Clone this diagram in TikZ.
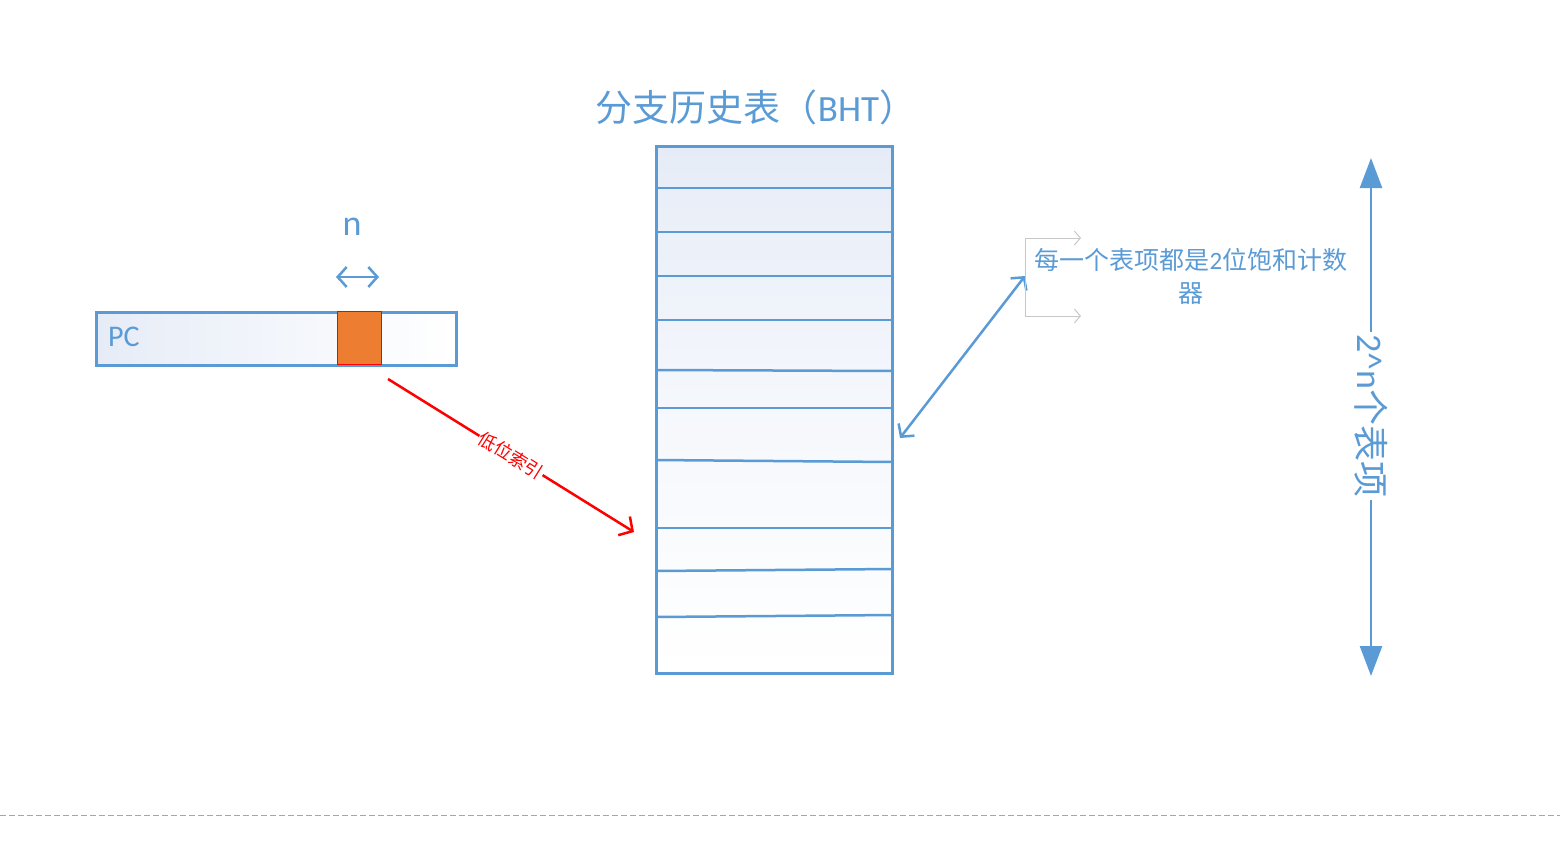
\documentclass[tikz,border=0pt]{standalone}
\usepackage{fontspec}
\setmainfont{Carlito}
\newfontfamily\cjk{Noto Sans CJK SC}
\usetikzlibrary{arrows.meta}
\definecolor{obl}{HTML}{5B9BD5}
\definecolor{oor}{HTML}{ED7D31}
\definecolor{lgr}{HTML}{C8C8C8}
\definecolor{pale}{HTML}{E6ECF7}
\tikzset{
  tbl/.style={draw=obl, line width=2.5pt},
  barb/.style={obl, line width=2.5pt, {Straight Barb[length=9pt,width=20pt,line width=2.5pt]}-{Straight Barb[length=9pt,width=20pt,line width=2.5pt]}},
  redarr/.style={red, line width=2.5pt, -{Straight Barb[length=10pt,width=22pt,line width=2.5pt]}},
  greyarr/.style={lgr, line width=1pt, -{Straight Barb[length=6pt,width=14pt,line width=1pt]}},
  bigarr/.style={obl, line width=2.5pt, {Triangle[length=30pt,width=22pt]}-{Triangle[length=30pt,width=22pt]}},
  bluetxt/.style={text=obl, inner sep=1pt},
}
\begin{document}
\begin{tikzpicture}[x=1pt,y=-1pt]
\useasboundingbox (0,0) rectangle (1560,865);

% title
\node[bluetxt, font=\fontsize{37}{42}\selectfont] (title) at (756,107) {{\cjk 分支历史表（}BHT{\cjk ）}};

% PC register
\node[tbl, minimum width=360pt, minimum height=53pt, inner sep=0pt, left color=pale, right color=white, anchor=north west] (pc) at (95,311) {};
\node[bluetxt, anchor=west, font=\fontsize{30}{36}\selectfont] (pclab) at (107,337) {PC};
\node[draw=red, line width=1pt, fill=oor, minimum width=44pt, minimum height=53pt, inner sep=0pt, anchor=north west] (idx) at (337,311) {};

% n width marker
\node[bluetxt, font=\fontsize{36}{40}\selectfont] (nlab) at (352,227) {n};
\coordinate (nl) at (336,277);
\coordinate (nr) at (379,277);
\draw[barb] (nl) -- (nr);

% BHT table
\node[tbl, minimum width=236pt, minimum height=527pt, inner sep=0pt, top color=pale, bottom color=white, middle color=pale!40!white, anchor=north west] (bht) at (655,145) {};
\foreach \a/\b in {188/188,232/232,276/276,320/320,370/371,408/408,460/462,528/528,571/569,617/615}{
  \draw[tbl] (bht.west |- 0,\a) -- (bht.east |- 0,\b);
}

% red index arrow
\coordinate (rs) at (388,379);
\coordinate (re) at (634,532);
\draw[redarr] (rs) -- node[pos=0.5, sloped, fill=white, inner sep=1pt, text=red, font=\fontsize{18}{20}\selectfont\cjk] (rlab) {低位索引} (re);

% entry annotation
\coordinate (ea) at (900,438);
\coordinate (eb) at (1025,276);
\draw[barb] (ea) -- (eb);
\coordinate (bt) at (1025,238);
\coordinate (bb) at (1025,316);
\coordinate (btr) at (1081,238);
\coordinate (bbr) at (1081,316);
\draw[lgr, line width=1pt] (bt) -- (bb);
\draw[greyarr] (bt) -- (btr);
\draw[greyarr] (bb) -- (bbr);
\node[bluetxt, align=center, font=\fontsize{25}{33}\selectfont] (note) at (1191,276) {{\cjk 每一个表项都是}2{\cjk 位饱和计数}\\{\cjk 器}};

% 2^n entries
\coordinate (vt) at (1371,158);
\coordinate (vb) at (1371,676);
\draw[bigarr] (vt) -- (vb);
\node[bluetxt, fill=white, rotate=-90, inner sep=2pt, font=\fontsize{36}{40}\selectfont] (vlab) at (1371,416) {2\^{}n{\cjk 个表项}};

% dashed separator
\coordinate (dl) at (0,815);
\coordinate (dr) at (1560,815);
\draw[black!35, line width=1pt, dash pattern=on 6pt off 3pt] (dl) -- (dr);
\end{tikzpicture}
\end{document}
